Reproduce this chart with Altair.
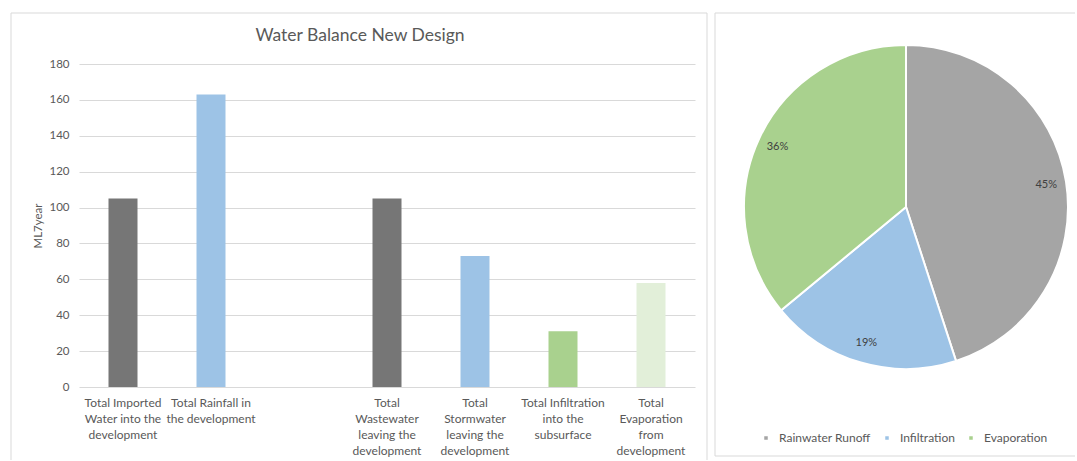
import altair as alt
import pandas as pd

# ---- bar chart data ----
bar_categories = [
    "Total Imported|Water into the|development",
    "Total Rainfall in|the development",
    " ",
    "Total|Wastewater|leaving the|development",
    "Total|Stormwater|leaving the|development",
    "Total Infiltration|into the|subsurface",
    "Total|Evaporation|from|development",
]
bar_values = [105, 163, None, 105, 73, 31, 58]
y_ticks = [0, 20, 40, 60, 80, 100, 120, 140, 160, 180]

# ---- pie data ----
pie_labels = ["Rainwater Runoff", "Infiltration", "Evaporation"]
pie_values = [45, 19, 36]

FONT = "Lato"
TXT = "#595959"
GRID = "#d9d9d9"
BOX = "#d9d9d9"

bar_df = pd.DataFrame({"category": bar_categories, "value": bar_values})
bar_df["idx"] = range(len(bar_df))
pie_df = pd.DataFrame({"label": pie_labels, "value": pie_values})
pie_df["idx"] = range(len(pie_df))
one = pd.DataFrame({"a": [0]})

colored_cats = [c for c, v in zip(bar_categories, bar_values) if v is not None]
bar_colors = ["#767676", "#9dc3e6", "#767676", "#9dc3e6", "#a9d18e", "#e2efd9"]

PW, PH = 616, 323

bars = alt.Chart(bar_df).mark_bar(size=29).encode(
    x=alt.X("category:N", scale=alt.Scale(domain=bar_categories), sort=None,
            axis=alt.Axis(title=None, labelAngle=0, ticks=False, domain=False,
                          labelExpr="split(datum.label, '|')", labelLineHeight=16,
                          labelPadding=10, labelFont=FONT, labelFontSize=12,
                          labelColor=TXT, labelLimit=200)),
    y=alt.Y("value:Q", scale=alt.Scale(domain=[0, 180], nice=False),
            axis=alt.Axis(title="ML7year", values=y_ticks, ticks=False, domain=False,
                          gridColor=GRID, gridWidth=1, labelPadding=10,
                          labelFont=FONT, labelFontSize=11.5, labelColor=TXT,
                          titleFont=FONT, titleFontSize=11.5, titleColor=TXT,
                          titleFontWeight="normal", titlePadding=5)),
    color=alt.Color("category:N", scale=alt.Scale(domain=colored_cats, range=bar_colors),
                    legend=None),
)

title_text = alt.Chart(one).mark_text(
    text="Water Balance New Design", font=FONT, fontSize=17.5, color=TXT,
    align="center", baseline="middle"
).encode(x=alt.value(281), y=alt.value(-28))

left_box = [
    alt.Chart(one).mark_rule(color=BOX, strokeWidth=1).encode(
        x=alt.value(-68), y=alt.value(-51), y2=alt.value(396)),
    alt.Chart(one).mark_rule(color=BOX, strokeWidth=1).encode(
        x=alt.value(-68), x2=alt.value(628), y=alt.value(-51)),
    alt.Chart(one).mark_rule(color=BOX, strokeWidth=1).encode(
        x=alt.value(628), y=alt.value(-51), y2=alt.value(396)),
]

left = alt.layer(*left_box, title_text, bars).properties(width=PW, height=PH)

# ---- pie ----  (origin aligned with left plot origin at y=63)
RW = 360
TOP = -51
BOT = 392
CX, CY = 191, 143

pie_base = alt.Chart(pie_df).encode(
    theta=alt.Theta("value:Q", stack=True),
    order=alt.Order("idx:Q"),
    color=alt.Color("label:N", scale=alt.Scale(domain=pie_labels,
                                                range=["#a5a5a5", "#9dc3e6", "#a9d18e"]),
                    legend=alt.Legend(title=None, orient="none", legendX=45, legendY=368,
                                      direction="horizontal", symbolType="square",
                                      symbolSize=25, labelFont=FONT, labelFontSize=12,
                                      labelColor=TXT, columnPadding=10, labelOffset=7,
                                      padding=0)),
)

pie = pie_base.mark_arc(outerRadius=162, stroke="white", strokeWidth=2).encode(
    x=alt.value(CX), y=alt.value(CY))

pie_text = pie_base.mark_text(radius=142, font=FONT, fontSize=11).encode(
    x=alt.value(CX), y=alt.value(CY),
    text=alt.Text("pct:N"), color=alt.value("#404040"),
).transform_calculate(pct="datum.value + '%'")

right_box = [
    alt.Chart(one).mark_rule(color=BOX, strokeWidth=1).encode(
        x=alt.value(0), y=alt.value(TOP), y2=alt.value(BOT)),
    alt.Chart(one).mark_rule(color=BOX, strokeWidth=1).encode(
        x=alt.value(0), x2=alt.value(RW), y=alt.value(TOP)),
    alt.Chart(one).mark_rule(color=BOX, strokeWidth=1).encode(
        x=alt.value(0), x2=alt.value(RW), y=alt.value(BOT)),
]

right = alt.layer(*right_box, pie, pie_text).properties(width=RW, height=PH)

chart = alt.hconcat(left, right, spacing=6).resolve_scale(color="independent").properties(
    padding={"left": 10, "top": 12, "right": 0, "bottom": 0},
    background="white",
).configure_view(stroke=None)

chart.save("out.html", embed_options={"renderer": "svg", "actions": False})
